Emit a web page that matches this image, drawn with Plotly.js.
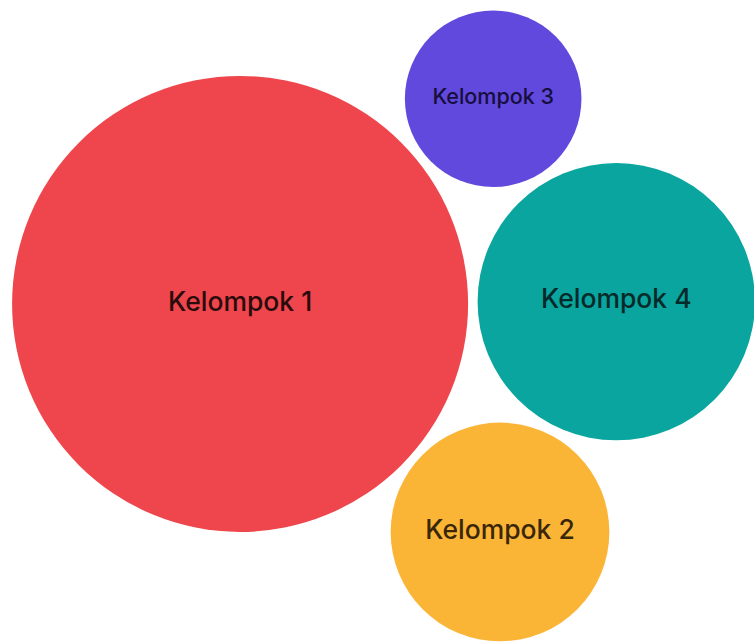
<!DOCTYPE html>
<html>
<head>
<meta charset="utf-8">
<script src="https://cdn.plot.ly/plotly-3.0.1.min.js"></script>
<style>html,body{margin:0;padding:0;background:#fff;}#chart{width:754px;height:643px;}</style>
</head>
<body>
<div id="chart"></div>
<script>
// Data
const labels = ["Kelompok 1", "Kelompok 2", "Kelompok 3", "Kelompok 4"];
const values = [100, 23, 15, 37];
// packed-bubble centres, in bubble-radius units (radius = sqrt(value))
const xPos = [0, 11.4, 11.1, 16.5];
const yPos = [0, -10.0, 9.0, 0.1];
const colors = ["#EE464C", "#FBB536", "#6149DD", "#0AA59E"];
const textColors = ["#2A0B0C", "#3A2608", "#160E3C", "#062A2A"];
const fontSizes = [26.5, 26.5, 21.5, 26.5];

const W = 754, H = 643;
const xRange = [-10.53, 22.54];
const yRange = [-14.87, 13.33];
const pxPerUnit = W / (xRange[1] - xRange[0]);

const trace = {
  type: "scatter",
  mode: "markers+text",
  x: xPos,
  y: yPos,
  text: labels,
  textposition: "middle center",
  textfont: { family: "Inter, Lato, sans-serif", size: fontSizes, color: textColors, weight: 500 },
  marker: {
    size: values.map(v => 2 * Math.sqrt(v) * pxPerUnit),
    sizemode: "diameter",
    color: colors,
    opacity: 1,
    line: { width: 0 }
  },
  hoverinfo: "text",
  cliponaxis: false
};

const layout = {
  width: W, height: H,
  margin: { l: 0, r: 0, t: 0, b: 0 },
  paper_bgcolor: "#ffffff",
  plot_bgcolor: "#ffffff",
  showlegend: false,
  xaxis: { range: xRange, visible: false, fixedrange: true },
  yaxis: { range: yRange, visible: false, fixedrange: true }
};

Plotly.newPlot("chart", [trace], layout, { displayModeBar: false, staticPlot: true });
</script>
</body>
</html>
